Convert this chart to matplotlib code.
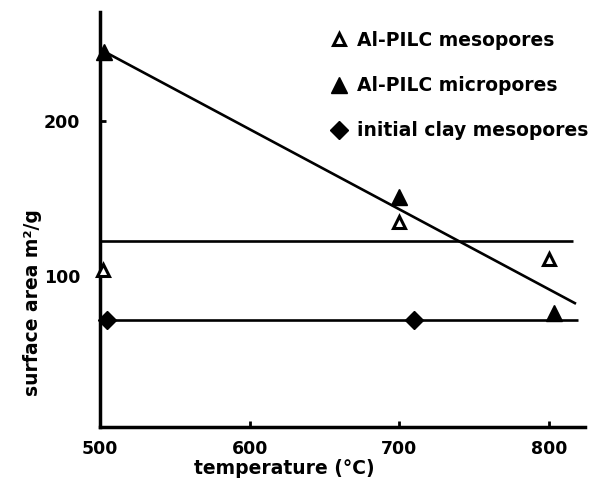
import matplotlib
matplotlib.use("Agg")
import matplotlib.pyplot as plt
from matplotlib.lines import Line2D

# data
meso_temp = [502, 700, 800]
meso_area = [104, 135, 111]
micro_temp = [503, 700, 803]
micro_area = [244, 151, 76]
clay_temp = [505, 710]
clay_area = [71.6, 71.6]

# fitted / reference lines (endpoints)
trend_temp = [500, 818]
trend_area = [246, 82]
meso_level_temp = [500, 816]
meso_level_area = [122.6, 122.6]
clay_level_temp = [500, 819]
clay_level_area = [71.6, 71.6]

xticks = [500, 600, 700, 800]
yticks = [100, 200]

plt.rcParams['font.family'] = ['DejaVu Sans']
plt.rcParams['font.weight'] = 'bold'

fig = plt.figure(figsize=(5.93, 4.97), dpi=100)
W, H = 593, 497
ax = fig.add_axes([100 / W, 1 - 427 / H, 485 / W, 415 / H])

lw = 1.9
ax.plot(trend_temp, trend_area, color='black', lw=lw, solid_capstyle='butt')
ax.plot(meso_level_temp, meso_level_area, color='black', lw=lw, solid_capstyle='butt')
ax.plot(clay_level_temp, clay_level_area, color='black', lw=lw, solid_capstyle='butt')

ax.plot(meso_temp, meso_area, linestyle='none', marker='^', markersize=9,
        markerfacecolor='white', markeredgecolor='black', markeredgewidth=2.2, clip_on=False, zorder=5)
ax.plot(micro_temp, micro_area, linestyle='none', marker='^', markersize=11,
        color='black', clip_on=False, zorder=5)
ax.plot(clay_temp, clay_area, linestyle='none', marker='D', markersize=9,
        color='black', clip_on=False, zorder=5)

ax.set_xlim(500, 824)
ax.set_ylim(2.6, 270)
ax.set_xticks(xticks)
ax.set_yticks(yticks)
ax.tick_params(direction='in', length=4, width=2, labelsize=12.5)
ax.tick_params(axis='x', pad=9)
ax.tick_params(axis='y', pad=14.4)
for lab in ax.get_xticklabels() + ax.get_yticklabels():
    lab.set_fontweight('bold')

for s in ['top', 'right']:
    ax.spines[s].set_visible(False)
for s in ['left', 'bottom']:
    ax.spines[s].set_linewidth(2.5)

ax.set_xlabel('temperature (°C)', fontsize=13.5, fontweight='bold', va='center')
ax.xaxis.set_label_coords(0.381, -0.099)
ax.set_ylabel('surface area m²/g', fontsize=13.5, fontweight='bold', va='center')
ax.yaxis.set_label_coords(-0.140, 0.30)

handles = [
    Line2D([], [], linestyle='none', marker='^', markersize=9, markerfacecolor='white',
           markeredgecolor='black', markeredgewidth=2.2),
    Line2D([], [], linestyle='none', marker='^', markersize=11, color='black'),
    Line2D([], [], linestyle='none', marker='D', markersize=9, color='black'),
]
labels = ['Al-PILC mesopores', 'Al-PILC micropores', 'initial clay mesopores']
leg = fig.legend(handles, labels, loc='upper left', bbox_to_anchor=(331 / W, 1 - 31 / H),
                 frameon=False, fontsize=13.5, handlelength=0.9, handletextpad=0.5,
                 borderpad=0, borderaxespad=0, labelspacing=1.4)
for t in leg.get_texts():
    t.set_fontweight('bold')

fig.savefig('out.png', dpi=100)
